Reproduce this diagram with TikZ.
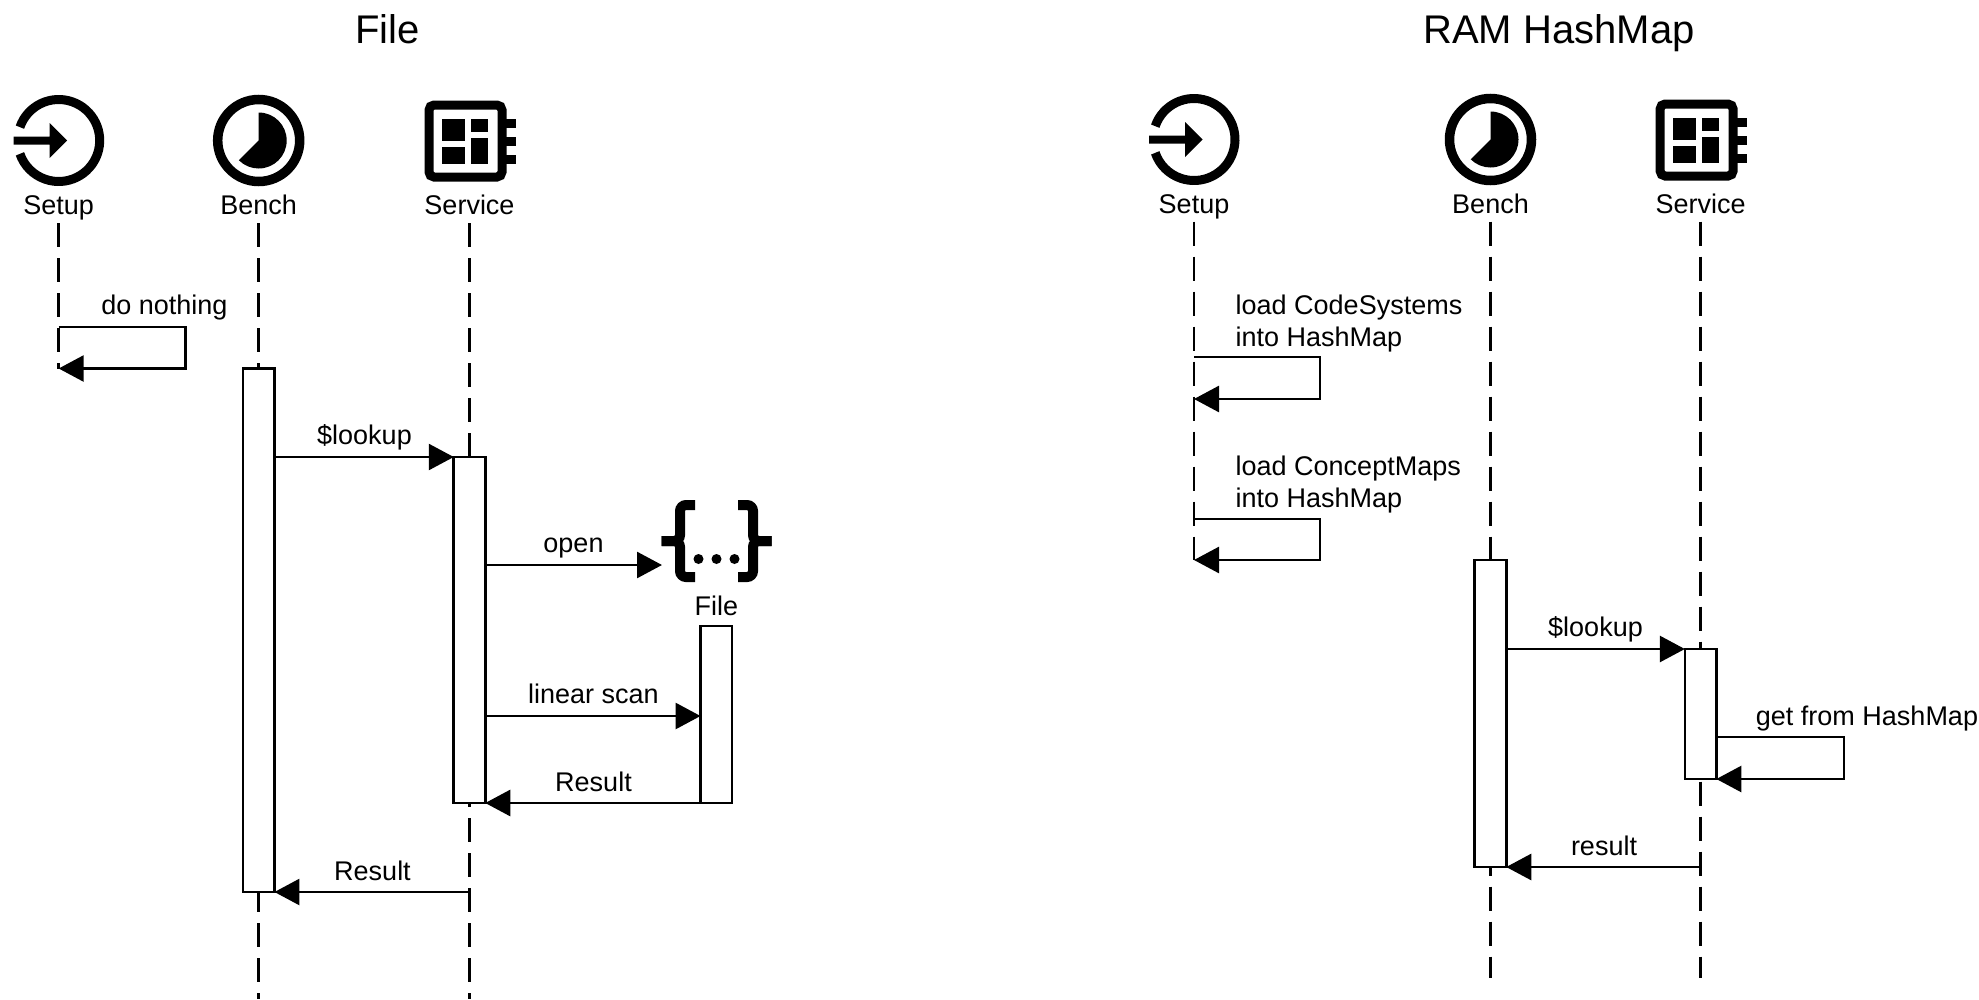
\documentclass[tikz,border=0pt]{standalone}
\usepackage{fontspec}
\setmainfont{Liberation Sans}
\usetikzlibrary{arrows.meta, positioning, calc}
\tikzset{
  titlelbl/.style={font=\fontsize{40}{46}\selectfont, inner sep=0pt, text height=28pt, text depth=8pt},
  actorlbl/.style={font=\fontsize{27}{32}\selectfont, inner xsep=0pt, inner ysep=2.5pt, text height=20pt, text depth=6pt},
  msglbl/.style={font=\fontsize{27}{32}\selectfont, inner sep=0pt, text height=20pt, text depth=6pt},
  notelbl/.style={font=\fontsize{27}{32}\selectfont, inner sep=0pt, align=left, anchor=west},
  lifeline/.style={line width=2.7pt, dash pattern=on 24pt off 11pt},
  msg/.style={line width=2.7pt, -{Triangle[length=25pt,width=26pt]}},
  barbox/.style={draw, fill=white, line width=2.7pt, minimum width=31.5pt, inner sep=0pt, outer sep=0pt},
  setupicon/.pic={
    \draw[line width=9pt] (161:41pt) arc[start angle=161, end angle=-161, radius=41pt];
    \fill (-45,-4) -- (-9,-4) -- (-9,-17.5) -- (8.5,0) -- (-9,17.5) -- (-9,4) -- (-45,4) -- cycle;
  },
  benchicon/.pic={
    \draw[line width=9.5pt] (0,0) circle (41pt);
    \fill (0,0) -- (0,-28) arc[start angle=90, end angle=-135, radius=28pt] -- cycle;
  },
  serviceicon/.pic={
    \draw[line width=9pt, rounded corners=5pt] (-40.5,-35.5) rectangle (32.5,36.5);
    \fill (-27.5,-22) rectangle (-4.5,0);
    \fill (1.5,-22) rectangle (18.5,-9);
    \fill (-27.5,6) rectangle (-4.5,23);
    \fill (1.5,-3) rectangle (18.5,23);
    \foreach \y in {-22,-4,14}{
      \fill (36.5,\y) rectangle (46,\y+9);
    }
  },
  braceicon/.pic={
    \draw[line width=10pt, rounded corners=6pt] (-21.5,-36) -- (-36.5,-36) -- (-36.5,0) -- (-55,0);
    \draw[line width=10pt, rounded corners=6pt] (-21.5,36) -- (-36.5,36) -- (-36.5,0) -- (-55,0);
    \draw[line width=10pt, rounded corners=6pt] (21.5,-36) -- (36.5,-36) -- (36.5,0) -- (55,0);
    \draw[line width=10pt, rounded corners=6pt] (21.5,36) -- (36.5,36) -- (36.5,0) -- (55,0);
    \foreach \x in {-18,0,18}{
      \fill (\x,18) circle (5pt);
    }
  }
}
\begin{document}
\begin{tikzpicture}[x=1pt, y=-1pt]
  \useasboundingbox (0,0) rectangle (1979,999);
  % File side
  \node[titlelbl] (titleL) at (387.5,33) {File};
  \pic at (58.7,140.5) {setupicon};
  \pic at (258.7,140.5) {benchicon};
  \pic at (469.5,140.5) {serviceicon};
  \node[actorlbl] (setupL) at (58.7,207.5) {Setup};
  \node[actorlbl] (benchL) at (258.7,207.5) {Bench};
  \node[actorlbl] (serviceL) at (469.5,207.5) {Service};
  \coordinate (loopLa) at (58.7,327);
  \coordinate (loopLb) at (185.5,368.5);
  \coordinate (loopLc) at (58.7,368.5);
  \coordinate (endL) at (0,999);
  \draw[lifeline] (setupL.south) -- (loopLc);
  \draw[lifeline] (benchL.south) -- (benchL |- endL);
  \draw[lifeline] (serviceL.south) -- (serviceL |- endL);
  \draw[msg] (loopLa) -| (loopLb) -- (loopLc);
  \node[msglbl] (nothingL) at (164.5,307.5) {do nothing};
  % Bars
  \node[barbox, minimum height=523.5pt, anchor=north] (benchbarL) at (258.7,368.5) {};
  \node[barbox, minimum height=346pt, anchor=north] (servicebarL) at (469.5,457) {};
  \node[barbox, minimum height=177pt, anchor=north] (filebar) at (716.3,626) {};
  \pic at (716.5,541) {braceicon};
  \coordinate (braceW) at (662,565);
  \node[actorlbl] (fileL) at (716.3,608.5) {File};
  % Messages
  \draw[msg] (benchbarL.east |- servicebarL.north west) -- (servicebarL.north west);
  \node[msglbl] (lookupL) at (364.5,437.5) {\$lookup};
  \draw[msg] (servicebarL.east |- braceW) -- (braceW);
  \node[msglbl] (openL) at (573.5,545.5) {open};
  \coordinate (scanL) at (filebar.west |- 0,716);
  \draw[msg] (servicebarL.east |- scanL) -- (scanL);
  \node[msglbl] (linearL) at (593.5,696.5) {linear scan};
  \draw[msg] (filebar.south west) -- (servicebarL.south east);
  \node[msglbl] (resultLa) at (593.5,784.5) {Result};
  \draw[msg] (servicebarL |- benchbarL.south east) -- (benchbarL.south east);
  \node[msglbl] (resultLb) at (372.5,873.5) {Result};
  % RAM HashMap side
  \node[titlelbl] (titleR) at (1559,33) {RAM HashMap};
  \pic at (1194,139.5) {setupicon};
  \pic at (1490.5,139.5) {benchicon};
  \pic at (1700.6,139.5) {serviceicon};
  \node[actorlbl] (setupR) at (1194,206) {Setup};
  \node[actorlbl] (benchR) at (1490.5,206) {Bench};
  \node[actorlbl] (serviceR) at (1700.6,206) {Service};
  \coordinate (loopRa) at (1194,357);
  \coordinate (loopRb) at (1320,399);
  \coordinate (loopRc) at (1194,399);
  \coordinate (loopRd) at (1194,519);
  \coordinate (loopRe) at (1320,560);
  \coordinate (loopRf) at (1194,560);
  \coordinate (endR) at (0,978);
  \draw[lifeline] (setupR.south) -- (loopRf);
  \draw[lifeline] (benchR.south) -- (benchR |- endR);
  \draw[lifeline] (serviceR.south) -- (serviceR |- endR);
  \draw[msg] (loopRa) -| (loopRb) -- (loopRc);
  \node[notelbl] (loadcs) at (1235.5,323.5) {load CodeSystems\\into HashMap};
  \draw[msg] (loopRd) -| (loopRe) -- (loopRf);
  \node[notelbl] (loadcm) at (1235.5,484.5) {load ConceptMaps\\into HashMap};
  % Bars
  \node[barbox, minimum height=307pt, anchor=north] (benchbarR) at (1490.5,560) {};
  \node[barbox, minimum height=130pt, anchor=north] (servicebarR) at (1700.6,649) {};
  % Messages
  \draw[msg] (benchbarR.east |- servicebarR.north west) -- (servicebarR.north west);
  \node[msglbl] (lookupR) at (1595.5,629.5) {\$lookup};
  \coordinate (loopRg) at (servicebarR.east |- 0,737);
  \coordinate (loopRh) at (1844,779);
  \draw[msg] (loopRg) -| (loopRh) -- (servicebarR.south east);
  \node[msglbl] (getR) at (1867,718.5) {get from HashMap};
  \draw[msg] (servicebarR |- benchbarR.south east) -- (benchbarR.south east);
  \node[msglbl] (resultR) at (1604,848.5) {result};
\end{tikzpicture}
\end{document}
